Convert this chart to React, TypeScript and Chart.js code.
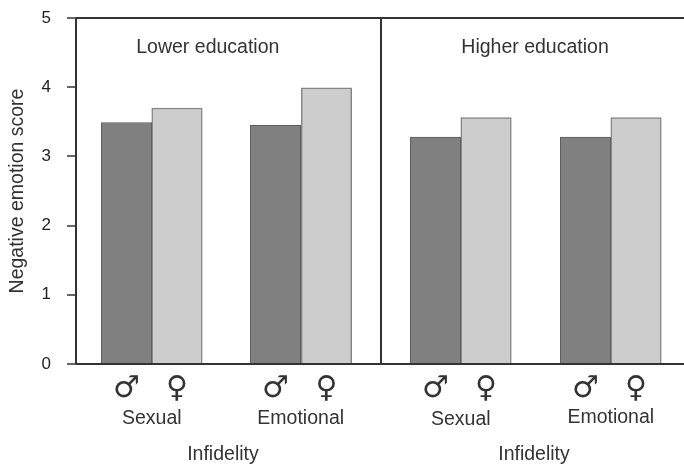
import React, { useEffect, useRef } from "react";
import { Chart, registerables } from "chart.js";

Chart.register(...registerables);

const maleX = [1, 3.95, 7.12, 10.09];
const femaleX = [2, 4.96, 8.12, 11.09];
const maleValues = [3.49, 3.45, 3.28, 3.28];
const femaleValues = [3.7, 3.99, 3.56, 3.56];
const maleSymbol = "\u2642";
const femaleSymbol = "\u2640";
const groupLabels = ["Sexual", "Emotional", "Sexual", "Emotional"];
const groupX = [1.5, 4.45, 7.62, 10.59];
const groupY = [419, 419, 420, 418];
const xTitles = ["Infidelity", "Infidelity"];
const xTitleX = [2.91, 9.07];
const panelTitles = ["Lower education", "Higher education"];
const panelX = [2.61, 9.09];
const panelY = 4.57;
const dividerX = 6.04;
const yTicks = [0, 1, 2, 3, 4, 5];

const ink = "#333333";
const textFont = '"Liberation Sans", Arial, sans-serif';

const annotate = {
  id: "annotate",
  afterDraw(chart: any) {
    const { ctx, scales, chartArea } = chart;
    const x = scales.x;
    const y = scales.y;
    ctx.save();
    ctx.strokeStyle = ink;
    ctx.lineWidth = 2;
    ctx.beginPath();
    ctx.moveTo(x.getPixelForValue(dividerX), chartArea.top);
    ctx.lineTo(x.getPixelForValue(dividerX), chartArea.bottom);
    ctx.moveTo(chartArea.left, chartArea.top);
    ctx.lineTo(chartArea.left, chartArea.bottom);
    ctx.stroke();

    ctx.fillStyle = ink;
    ctx.textAlign = "center";
    ctx.textBaseline = "middle";
    ctx.font = `19.5px ${textFont}`;
    panelTitles.forEach((t, i) => ctx.fillText(t, x.getPixelForValue(panelX[i]), y.getPixelForValue(panelY)));
    groupLabels.forEach((t, i) => ctx.fillText(t, x.getPixelForValue(groupX[i]), groupY[i]));
    xTitles.forEach((t, i) => ctx.fillText(t, x.getPixelForValue(xTitleX[i]), 455));
    ctx.restore();
  },
};

export default function App() {
  const ref = useRef<HTMLCanvasElement>(null);

  useEffect(() => {
    document.body.style.margin = "0";
    const chart = new Chart(ref.current!, {
      type: "bar",
      data: {
        datasets: [
          {
            label: "Male",
            data: maleX.map((x, i) => ({ x, y: maleValues[i] })),
            backgroundColor: "#808080",
            borderColor: "#5c5c5c",
            borderWidth: 1,
          },
          {
            label: "Female",
            data: femaleX.map((x, i) => ({ x, y: femaleValues[i] })),
            backgroundColor: "#cdcdcd",
            borderColor: "#858585",
            borderWidth: 1.5,
          },
        ],
      },
      options: {
        animation: false,
        responsive: false,
        layout: { padding: { left: 0, right: 0, top: 18, bottom: 0 } },
        plugins: { legend: { display: false }, tooltip: { enabled: false } },
        datasets: { bar: { grouped: false, barPercentage: 1, categoryPercentage: 1 } },
        scales: {
          x: {
            type: "linear",
            offset: false,
            min: 0,
            max: 12.04,
            afterBuildTicks: (s: any) => {
              s.ticks = [...maleX, ...femaleX].sort((a, b) => a - b).map((value) => ({ value }));
            },
            afterFit: (s: any) => {
              s.height = 102;
              s.paddingLeft = 0;
              s.paddingRight = 0;
            },
            grid: { display: false },
            border: { display: false },
            ticks: {
              autoSkip: false,
              maxRotation: 0,
              padding: -1,
              color: ink,
              font: { family: '"DejaVu Sans"', size: 30 },
              callback: (v: any) => (maleX.includes(v) ? maleSymbol : femaleSymbol),
            },
          },
          y: {
            min: 0,
            max: 5,
            afterBuildTicks: (s: any) => {
              s.ticks = yTicks.map((value) => ({ value }));
            },
            afterFit: (s: any) => {
              s.width = 76;
              s.paddingTop = 0;
              s.paddingBottom = 0;
            },
            grid: {
              lineWidth: 2,
              tickLength: 9,
              tickColor: "#666666",
              color: (c: any) => (c.tick && (c.tick.value === 5 || c.tick.value === 0) ? ink : "rgba(0,0,0,0)"),
            },
            border: { display: false },
            title: {
              display: true,
              text: "Negative emotion score",
              color: ink,
              padding: { top: 6, bottom: 0 },
              font: { family: textFont, size: 19.5 },
            },
            ticks: {
              padding: 16,
              color: "#222222",
              font: { family: textFont, size: 17 },
            },
          },
        },
      },
      plugins: [annotate],
    } as any);
    return () => chart.destroy();
  }, []);

  return <canvas ref={ref} width={684} height={466} style={{ display: "block" }} />;
}
